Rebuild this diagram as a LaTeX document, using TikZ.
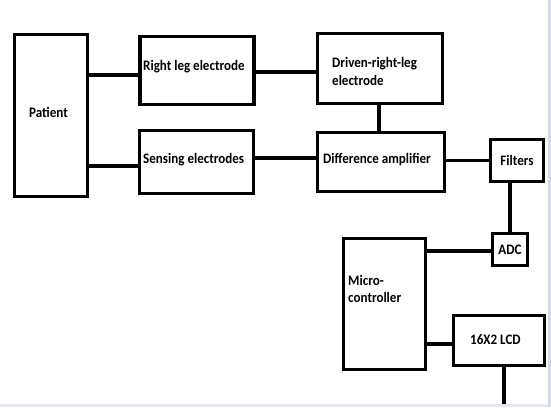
\documentclass[tikz,border=0pt]{standalone}
\usepackage{fontspec}
\setmainfont{Carlito}[FakeStretch=0.9]
\usetikzlibrary{calc}

\definecolor{bandblue}{RGB}{211,218,236}
\definecolor{bandgrey}{RGB}{230,232,239}

\tikzset{
  block/.style={draw=black,line width=3.2pt,minimum width=#1,inner sep=0pt},
  lbl/.style={font=\bfseries\fontsize{14.5}{17.5}\selectfont,inner sep=0pt,align=left},
  wire/.style={line width=3.2pt}
}

\begin{document}
\begin{tikzpicture}[x=1pt,y=-1pt]
\useasboundingbox (0,0) rectangle (551,407);
\fill[bandblue] (548,0) rectangle (551,407);
\fill[bandgrey] (0,404) rectangle (548,407);
% boxes
\node[block=73pt,minimum height=162pt] (patient) at (51,115.5) {};
\node[block=114pt,minimum height=68pt] (rle) at (197,70.5) {};
\node[block=114pt,minimum height=63pt] (sense) at (196.5,162) {};
\node[block=125pt,minimum height=70pt] (drl) at (380,68.5) {};
\node[block=127pt,minimum height=59pt] (diff) at (381,162) {};
\node[block=53pt,minimum height=42pt] (filters) at (517,160.5) {};
\node[block=35pt,minimum height=32pt] (adc) at (510,249.5) {};
\node[block=82pt,minimum height=131pt] (mcu) at (384.5,304) {};
\node[block=91pt,minimum height=50pt] (lcd) at (499,340.5) {};
% texts
\node[lbl,anchor=west] (patient-t) at (29,112) {Patient};
\node[lbl,anchor=west] (rle-t) at (143,67) {Right leg electrode};
\node[lbl,anchor=west] (sense-t) at (143,160) {Sensing electrodes};
\node[lbl,anchor=west] (drl-t) at (332,71.5) {Driven-right-leg\\electrode};
\node[lbl,anchor=west] (diff-t) at (323,160) {Difference amplifier};
\node[lbl] (filters-t) at (517,160) {Filters};
\node[lbl] (adc-t) at (510,250) {ADC};
\node[lbl,anchor=west] (mcu-t) at (348,289) {Micro-\\controller};
\node[lbl,anchor=west] (lcd-t) at (470,340) {16X2 LCD};
\coordinate (lcd-out) at (504,404);
% connections
\draw[wire] ([yshift=-4.5pt]rle.west -| patient.east) -- ([yshift=-4.5pt]rle.west);
\draw[wire] ([yshift=-4pt]sense.west -| patient.east) -- ([yshift=-4pt]sense.west);
\draw[wire] ([yshift=-1.5pt]rle.east) -- ([yshift=-1.5pt]rle.east -| drl.west);
\draw[wire] ([yshift=4pt]sense.east) -- ([yshift=4pt]sense.east -| diff.west);
\draw[wire] ([xshift=-1pt]drl.south) -- ([xshift=-1pt]drl.south |- diff.north);
\draw[wire] (filters.west -| diff.east) -- (filters.west);
\draw[wire] (adc.north |- filters.south) -- (adc.north);
\draw[wire] ([yshift=-1.5pt]adc.west -| mcu.east) -- ([yshift=-1.5pt]adc.west);
\draw[wire] ([yshift=-3.5pt]lcd.west -| mcu.east) -- ([yshift=-3.5pt]lcd.west);
\draw[wire] (lcd-out |- lcd.south) -- (lcd-out);
\end{tikzpicture}
\end{document}
